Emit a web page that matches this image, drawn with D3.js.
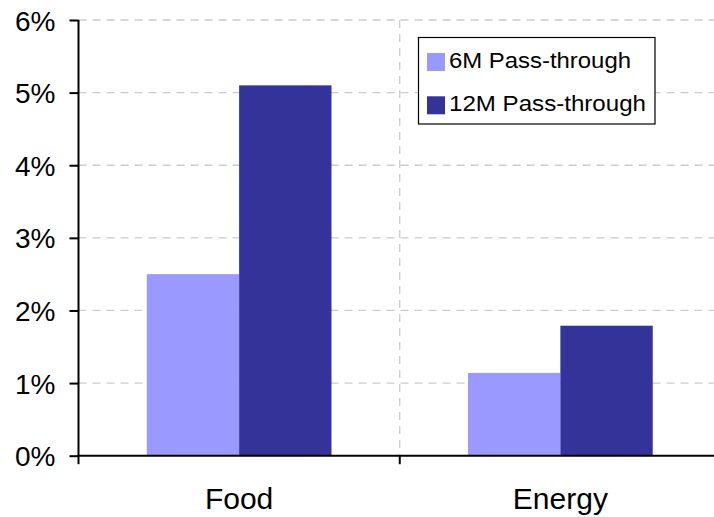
<!DOCTYPE html>
<html>
<head>
<meta charset="utf-8">
<script src="https://cdn.jsdelivr.net/npm/d3@7"></script>
<style>
  body { margin: 0; background: #fff; }
  svg { display: block; font-family: "Liberation Sans", Arial, sans-serif; }
</style>
</head>
<body>
<svg id="chart" width="714" height="517"></svg>
<script>
const categories = ["Food", "Energy"];
const seriesNames = ["6M Pass-through", "12M Pass-through"];
const seriesColors = ["#9999ff", "#333399"];
const sixMonth = [2.50, 1.14];
const twelveMonth = [5.1, 1.79];
const yTicks = [0, 1, 2, 3, 4, 5, 6];
const yTickLabels = ["0%", "1%", "2%", "3%", "4%", "5%", "6%"];

(function () {
const svg = d3.select("#chart");
const pLeft = 78.5, pRight = 721, pTop = 20, pBottom = 455.7;

const y = d3.scaleLinear().domain([0, 6]).range([pBottom, pTop]);
const x0 = d3.scaleBand().domain(categories).range([pLeft, pRight]).paddingInner(0.425).paddingOuter(0.2125);
const x1 = d3.scaleBand().domain(seriesNames).range([0, x0.bandwidth()]);
const step = x0.step();

// horizontal gridlines
svg.append("g").selectAll("line").data(yTicks.filter(d => d > 0)).join("line")
  .attr("x1", pLeft).attr("x2", 714)
  .attr("y1", d => y(d)).attr("y2", d => y(d))
  .attr("stroke", "#cccccc").attr("stroke-width", 1.3).attr("stroke-dasharray", "8,6");

// vertical separator gridline
svg.append("g").selectAll("line").data(categories.slice(1)).join("line")
  .attr("x1", d => x0(d) - x0.paddingInner() * step / 2).attr("x2", d => x0(d) - x0.paddingInner() * step / 2)
  .attr("y1", pTop).attr("y2", pBottom)
  .attr("stroke", "#cccccc").attr("stroke-width", 1.3).attr("stroke-dasharray", "8,6");

// bars
const data = categories.map((c, i) => ({ cat: c, vals: [sixMonth[i], twelveMonth[i]] }));
const groups = svg.append("g").selectAll("g").data(data).join("g")
  .attr("transform", d => `translate(${x0(d.cat)},0)`);
groups.selectAll("rect").data(d => d.vals.map((v, j) => ({ v, s: seriesNames[j], c: seriesColors[j] }))).join("rect")
  .attr("x", d => x1(d.s)).attr("width", x1.bandwidth())
  .attr("y", d => y(d.v)).attr("height", d => pBottom - y(d.v))
  .attr("fill", d => d.c);

// y axis
const yAxis = d3.axisLeft(y).tickValues(yTicks).tickFormat((d, i) => yTickLabels[i]).tickSize(9).tickPadding(14);
const yg = svg.append("g").attr("transform", `translate(${pLeft},0)`).call(yAxis);
yg.select(".domain").attr("stroke", "#000").attr("stroke-width", 2).attr("d", `M0,${pTop}V${pBottom}`);
yg.selectAll(".tick line").attr("stroke", "#000").attr("stroke-width", 2);
yg.selectAll(".tick text").attr("font-size", 28).attr("fill", "#000")
  .attr("font-family", "Liberation Sans, Arial, sans-serif").attr("dy", "0.36em");

// x axis
const xg = svg.append("g");
xg.append("line").attr("x1", pLeft - 1).attr("x2", 714).attr("y1", pBottom).attr("y2", pBottom)
  .attr("stroke", "#000").attr("stroke-width", 2);
const boundaries = categories.map(c => x0(c) - x0.paddingInner() * step / 2).concat([pRight]);
boundaries[0] = pLeft;
xg.selectAll("line.tk").data(boundaries).join("line").attr("class", "tk")
  .attr("x1", d => d).attr("x2", d => d).attr("y1", pBottom).attr("y2", pBottom + 8.5)
  .attr("stroke", "#000").attr("stroke-width", 2);
xg.selectAll("text").data(categories).join("text")
  .attr("x", d => x0(d) + x0.bandwidth() / 2).attr("y", 509)
  .attr("text-anchor", "middle").attr("font-size", 30).attr("fill", "#000")
  .text(d => d);

// legend
const lg = svg.append("g");
lg.append("rect").attr("x", 418.5).attr("y", 37.5).attr("width", 236.5).attr("height", 86.5)
  .attr("fill", "#fff").attr("stroke", "#000").attr("stroke-width", 1.2);
const items = lg.selectAll("g").data(seriesNames).join("g")
  .attr("transform", (d, i) => `translate(0,${i * 43.3})`);
items.append("rect").attr("x", 427).attr("y", 53).attr("width", 18).attr("height", 18)
  .attr("fill", (d, i) => seriesColors[i]);
items.append("text").attr("x", 449).attr("y", 67.5).attr("font-size", 22.5).attr("fill", "#000")
  .attr("textLength", (d, i) => i === 0 ? 182 : 197).attr("lengthAdjust", "spacingAndGlyphs")
  .text(d => d);
})();
</script>
</body>
</html>
